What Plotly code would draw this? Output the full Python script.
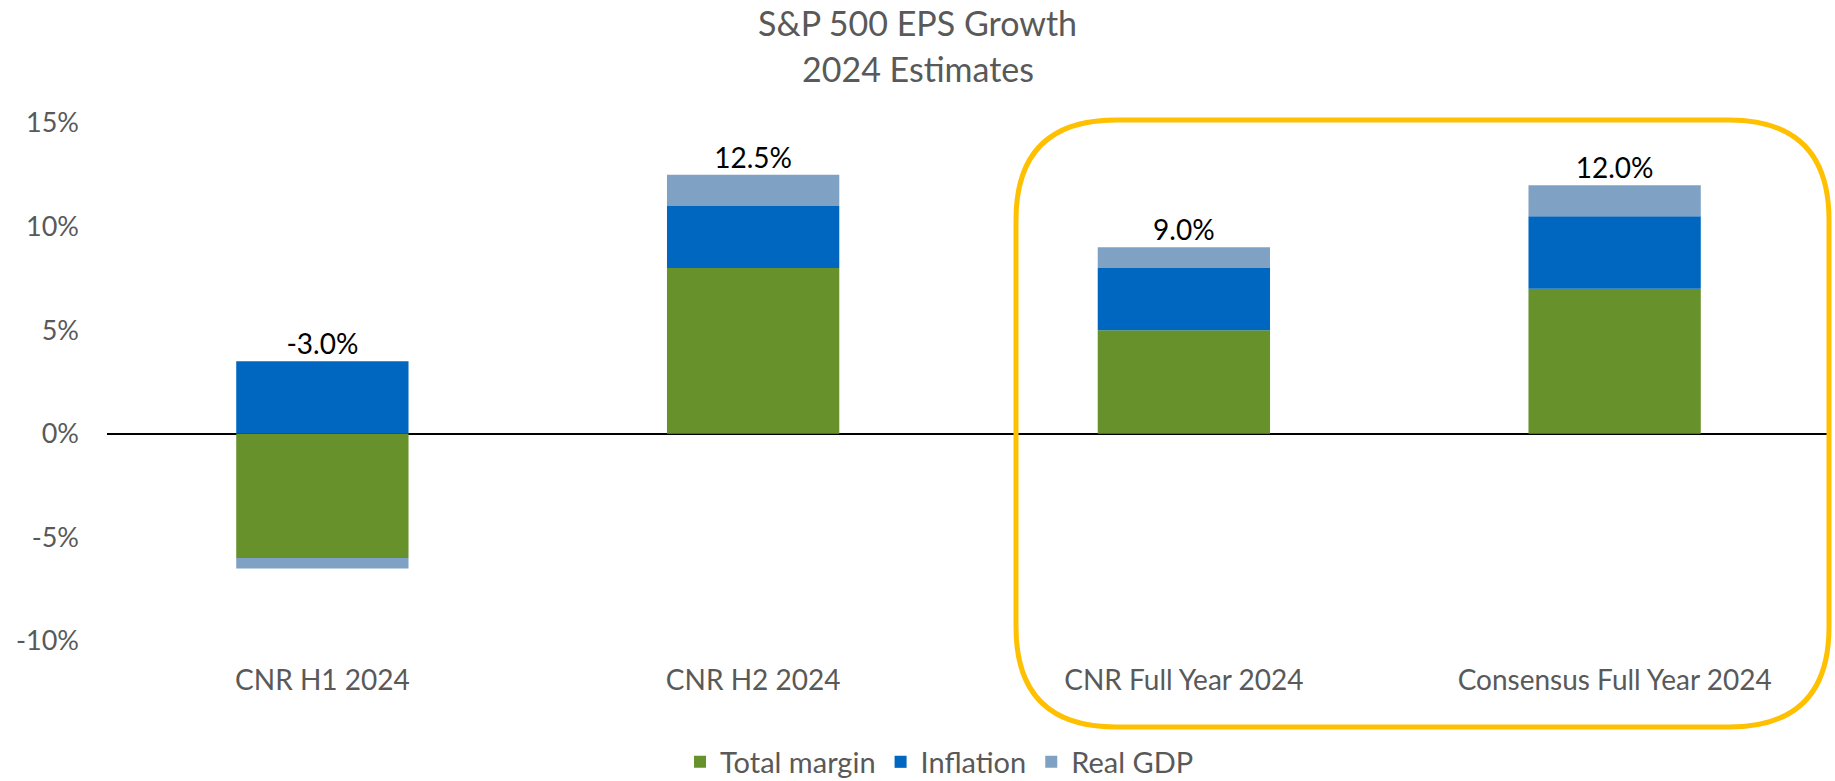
import plotly.graph_objects as go

categories = ["CNR H1 2024", "CNR H2 2024", "CNR Full Year 2024", "Consensus Full Year 2024"]
total_margin = [-6.0, 8.0, 5.0, 7.0]
inflation = [3.5, 3.0, 3.0, 3.5]
real_gdp = [-0.5, 1.5, 1.0, 1.5]
totals = [-3.0, 12.5, 9.0, 12.0]
tick_vals = [-10, -5, 0, 5, 10, 15]
tick_text = ["-10%", "-5%", "0%", "5%", "10%", "15%"]
title_lines = ["S&P 500 EPS Growth", "2024 Estimates"]

series = [
    ("Total margin", total_margin, "#67912A"),
    ("Inflation", inflation, "#0067C1"),
    ("Real GDP", real_gdp, "#7FA1C4"),
]

FONT = "Lato"
GREY = "#595959"
FIG_W, FIG_H = 1835, 781

fig = go.Figure()
for name, vals, col in series:
    fig.add_trace(go.Bar(x=categories, y=vals, name=name, marker=dict(color=col, line=dict(width=0)),
                         width=0.4))

# label position: top of positive stack
pos_top = [sum(v for v in (a, b, c) if v > 0) for a, b, c in zip(total_margin, inflation, real_gdp)]
fig.add_trace(go.Scatter(x=categories, y=pos_top, mode="text",
                         text=[f"{t:.1f}%" for t in totals], textposition="top center",
                         textfont=dict(family=FONT, size=28, color="#000000"),
                         showlegend=False, hoverinfo="skip"))

# plot area geometry (pixels)
W_PX, H_PX = 1723, 518
L_PX, T_PX = 107, 123
B_PX = T_PX + H_PX

def px(xp):
    return (xp - L_PX) / W_PX

def py(yp):
    return (B_PX - yp) / H_PX

# rounded highlight box
bx0, bx1, by0, by1, r = 1016, 1829, 120, 727, 100
x0, x1 = px(bx0), px(bx1)
yt, yb = py(by0), py(by1)
rx, ry = r / W_PX, r / H_PX
path = (f"M {x0+rx},{yt} L {x1-rx},{yt} Q {x1},{yt} {x1},{yt-ry} "
        f"L {x1},{yb+ry} Q {x1},{yb} {x1-rx},{yb} "
        f"L {x0+rx},{yb} Q {x0},{yb} {x0},{yb+ry} "
        f"L {x0},{yt-ry} Q {x0},{yt} {x0+rx},{yt} Z")
fig.add_shape(type="path", path=path, xref="paper", yref="paper",
              line=dict(color="#FFC000", width=5), fillcolor="rgba(0,0,0,0)", layer="above")

# title as two annotations
for txt, yc in zip(title_lines, [23, 68]):
    fig.add_annotation(text=txt, xref="paper", yref="paper", x=px(FIG_W / 2), y=py(yc),
                       xanchor="center", yanchor="middle", showarrow=False,
                       font=dict(family=FONT, size=34, color=GREY))

fig.update_layout(
    barmode="relative",
    width=FIG_W, height=FIG_H,
    margin=dict(l=L_PX, r=FIG_W - L_PX - W_PX, t=T_PX, b=FIG_H - B_PX, autoexpand=False),
    paper_bgcolor="white", plot_bgcolor="white",
    font=dict(family=FONT, color=GREY, size=27),
    showlegend=True,
    legend=dict(orientation="h", x=0.512, xref="container", xanchor="center",
                y=(FIG_H - 762) / FIG_H, yref="container", yanchor="middle",
                font=dict(family=FONT, size=29, color=GREY), traceorder="normal",
                itemwidth=30, bgcolor="rgba(0,0,0,0)"),
)
fig.update_xaxes(showgrid=False, showline=False, ticks="", automargin=False,
                 tickfont=dict(family=FONT, size=28, color=GREY), ticklabelstandoff=20)
fig.update_yaxes(range=[-10, 15], tickvals=tick_vals, ticktext=tick_text, showgrid=False, showline=False,
                 zeroline=True, zerolinecolor="#000000", zerolinewidth=1.5, layer="above traces",
                 automargin=False,
                 tickfont=dict(family=FONT, size=27, color=GREY), ticklabelstandoff=27)

fig.write_html("out.html", config={"displayModeBar": False},
               post_script="document.body.style.margin='0px';")
